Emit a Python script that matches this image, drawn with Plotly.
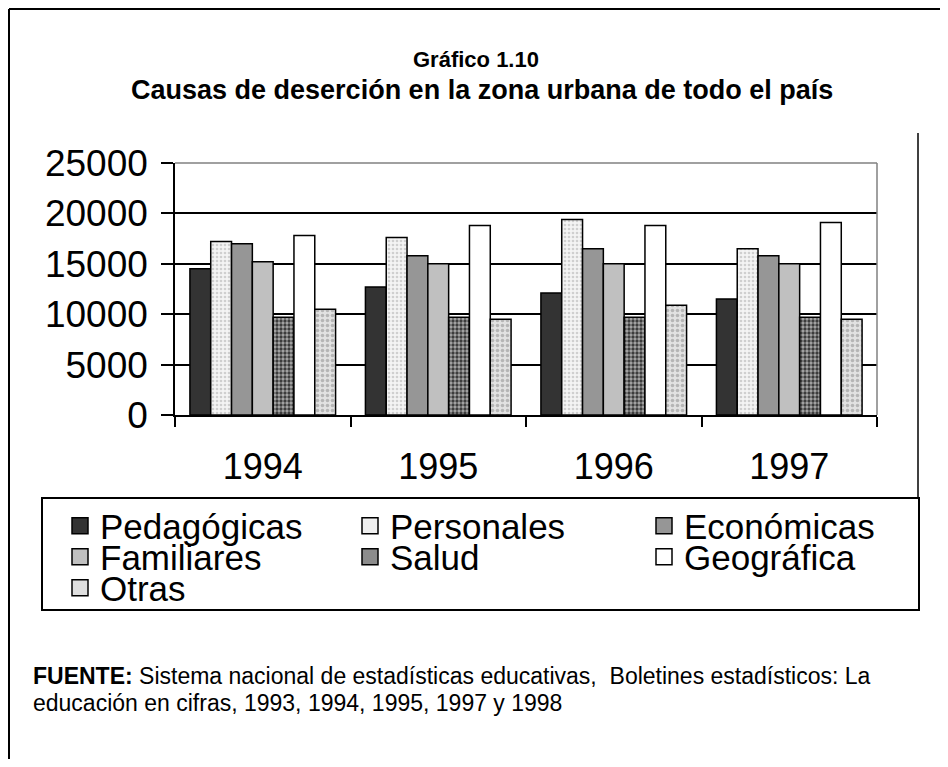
import plotly.graph_objects as go

# data
years = ["1994", "1995", "1996", "1997"]
pedagogicas = [14500, 12700, 12100, 11500]
personales = [17200, 17600, 19400, 16500]
economicas = [17000, 15800, 16500, 15800]
familiares = [15200, 15000, 15000, 15000]
salud = [9700, 9700, 9700, 9700]
geografica = [17800, 18800, 18800, 19100]
otras = [10500, 9500, 10900, 9500]

y_ticks = [0, 5000, 10000, 15000, 20000, 25000]
y_labels = ["0", "5000", "10000", "15000", "20000", "25000"]

OFF = 8  # page body margin
W, H = 948 - OFF, 767 - 2 * OFF
L, R, T, B = 175, 877, 163, 415  # plot area in page pixels


def px(x):
    return (x - L) / (R - L)


def py(y):
    return (B - y) / (B - T)


series = [
    ("Pedagógicas", pedagogicas, "#333333", None),
    ("Personales", personales, "#f0f0f0",
     dict(shape=".", bgcolor="#f4f4f4", fgcolor="#cfcfcf", size=4, solidity=0.35, fillmode="replace")),
    ("Económicas", economicas, "#969696", None),
    ("Familiares", familiares, "#c0c0c0", None),
    ("Salud", salud, "#8c8c8c",
     dict(shape=".", bgcolor="#aaaaaa", fgcolor="#3c3c3c", size=4, solidity=0.55, fillmode="replace")),
    ("Geográfica", geografica, "#ffffff", None),
    ("Otras", otras, "#dedede",
     dict(shape=".", bgcolor="#e2e2e2", fgcolor="#b5b5b5", size=5, solidity=0.4, fillmode="replace")),
]

# legend grid: 3 columns, 3 rows (page pixels)
leg_cols = [60, 350, 644]
leg_rows = [526, 557, 588]

font = "Liberation Sans, Arial, sans-serif"

fig = go.Figure()
for name, vals, color, pattern in series:
    mk = dict(color=color, line=dict(color="black", width=1.5))
    if pattern:
        mk["pattern"] = pattern
    fig.add_trace(go.Bar(x=years, y=vals, name=name, marker=mk, showlegend=False))

legends = {}
for i, (name, vals, color, pattern) in enumerate(series):
    key = "legend" if i == 0 else f"legend{i + 1}"
    fig.add_trace(go.Scatter(x=[None], y=[None], mode="markers", name=name, legend=key,
                             marker=dict(symbol="square", size=18, color=color,
                                         line=dict(color="black", width=1.5))))
    legends[key] = dict(
        x=px(leg_cols[i % 3]), y=py(leg_rows[i // 3]), xanchor="left", yanchor="middle",
        font=dict(size=35, family=font), bgcolor="rgba(0,0,0,0)", itemclick=False,
        itemdoubleclick=False,
    )

fig.update_layout(
    width=W, height=H,
    paper_bgcolor="white", plot_bgcolor="white",
    margin=dict(l=L - OFF, r=W - (R - OFF), t=T - OFF, b=H - (B - OFF), pad=0),
    barmode="group", bargap=0.17, bargroupgap=0,
    font=dict(family=font, color="black"),
    showlegend=True,
    **legends,
)

fig.update_xaxes(
    type="category", showline=True, linecolor="black", linewidth=1.5,
    ticks="outside", tickson="boundaries", ticklen=10, tickcolor="black", tickwidth=1.5,
    tickfont=dict(size=36), ticklabelstandoff=19, showgrid=False,
)
fig.update_yaxes(
    range=[0, 25000], tickvals=y_ticks, ticktext=y_labels, showline=True, linecolor="black", linewidth=1.5,
    ticks="outside", ticklen=12, tickcolor="black", tickwidth=1.5,
    showgrid=True, gridcolor="black", gridwidth=1.5, zeroline=False,
    tickfont=dict(size=37), ticklabelstandoff=6,
)

# plot area border (gray top and right)
fig.add_shape(type="line", xref="paper", yref="paper", x0=0, x1=1, y0=1, y1=1,
              line=dict(color="#808080", width=1.5), layer="above")
fig.add_shape(type="line", xref="paper", yref="paper", x0=1, x1=1, y0=0, y1=1,
              line=dict(color="#808080", width=1.5), layer="above")
# chart-area edge on the right
fig.add_shape(type="line", xref="paper", yref="paper", x0=px(918), x1=px(918), y0=py(133), y1=py(498),
              line=dict(color="black", width=1.5))
# legend box
fig.add_shape(type="rect", xref="paper", yref="paper", x0=px(42), x1=px(919), y0=py(498), y1=py(610),
              line=dict(color="black", width=2))
# outer frame (left, top, right)
for x0, y0, x1, y1 in [(9, 9, 9, 780), (9, 9, 943, 9), (943, 9, 943, 780)]:
    fig.add_shape(type="line", xref="paper", yref="paper", x0=px(x0), x1=px(x1), y0=py(y0), y1=py(y1),
                  line=dict(color="black", width=2))

fig.add_annotation(text="<b>Gráfico 1.10</b>", xref="paper", yref="paper", x=px(476), y=py(60),
                   showarrow=False, font=dict(size=22, family=font), xanchor="center", yanchor="middle")
fig.add_annotation(text="<b>Causas de deserción en la zona urbana de todo el país</b>", xref="paper",
                   yref="paper", x=px(482), y=py(90), showarrow=False,
                   font=dict(size=27, family=font), xanchor="center", yanchor="middle")
fig.add_annotation(text="<b>FUENTE:</b> Sistema nacional de estadísticas educativas,  Boletines estadísticos: La",
                   xref="paper", yref="paper", x=px(31), y=py(676), showarrow=False, align="left",
                   font=dict(size=23, family=font), xanchor="left", yanchor="middle")
fig.add_annotation(text="educación en cifras, 1993, 1994, 1995, 1997 y 1998",
                   xref="paper", yref="paper", x=px(31), y=py(703), showarrow=False, align="left",
                   font=dict(size=23, family=font), xanchor="left", yanchor="middle")

fig.write_html("out.html")
